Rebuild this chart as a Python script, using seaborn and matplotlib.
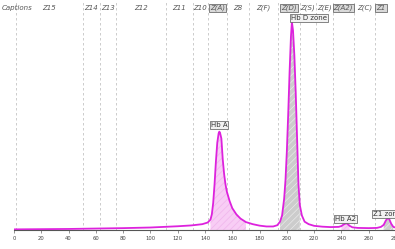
import numpy as np
import pandas as pd
import matplotlib
matplotlib.use("Agg")
import matplotlib.pyplot as plt
import matplotlib.transforms as mtransforms
import seaborn as sns

# ---- data ----
time_s = [0, 20, 40, 60, 80, 100, 120, 130, 138, 142, 144, 145, 146, 147, 148, 149,
          150, 150.5, 151, 152, 153, 154, 155, 156, 158, 160, 163, 166, 170, 175,
          180, 185, 190, 193, 195, 196.5, 198, 199, 200, 201, 202, 203, 203.7, 204.5,
          205.5, 206.5, 207.5, 208.5, 209.5, 211, 213, 216, 220, 226, 232, 238, 240,
          241.5, 243, 243.7, 244.5, 246, 248, 252, 260, 266, 269, 271, 272.5, 274,
          275, 276.5, 278, 280]
signal = [0.3, 0.4, 0.5, 0.7, 0.9, 1.2, 1.8, 2.2, 2.8, 3.6, 5.0, 7.5, 13.0, 22.0, 33.0, 42.0,
          46.5, 47.3, 46.8, 44.0, 34.0, 27.0, 22.0, 18.5, 14.0, 10.5, 7.5, 5.5, 3.8, 2.8,
          2.1, 1.7, 1.7, 2.3, 4.0, 7.0, 15.0, 24.0, 38.0, 56.0, 76.0, 93.0, 100.0, 96.0,
          84.0, 66.0, 44.0, 22.0, 12.0, 7.0, 4.0, 2.8, 2.0, 1.6, 1.4, 1.5, 1.9,
          2.6, 3.1, 3.2, 2.9, 2.0, 1.3, 1.0, 0.9, 1.0, 1.5, 2.5, 4.5, 5.8,
          5.3, 3.0, 1.5, 1.1]

zone_bounds = [1.5, 50.5, 63, 74.7, 111.4, 131.1, 142.1, 156, 172.2, 193.4, 209.5,
               221.2, 233.7, 249.1, 264.5]
zone_labels = ["Z15", "Z14", "Z13", "Z12", "Z11", "Z10", "Z(A)", "Z8", "Z(F)", "Z(D)",
               "Z(S)", "Z(E)", "Z(A2)", "Z(C)", "Z1"]
boxed_zones = ["Z(A)", "Z(D)", "Z(A2)", "Z1"]

fills = [  # (start, end, kind)
    (143.0, 172.2, "pink"),
    (194.5, 210.0, "gray"),
    (240.0, 247.0, "pink"),
    (270.0, 278.5, "gray"),
]

peak_names = ["Hb A", "Hb D zone", "Hb A2", "Z1 zone"]
peak_label_x = [150.2, 203.0, 243.2, 263.5]
peak_label_y = [50.5, 102.0, 5.5, 7.9]
peak_label_ha = ["center", "left", "center", "left"]

xticks = list(range(0, 281, 20))

# ---- drawing ----
sns.set_style("white")
plt.rcParams['font.family'] = ['DejaVu Sans']
plt.rcParams['hatch.linewidth'] = 0.5

fig = plt.figure(figsize=(3.95, 2.49), dpi=100)
ax = fig.add_axes([14 / 395, 19 / 249, 382 / 395, 230 / 249])

df = pd.DataFrame({"time": time_s, "signal": signal})
x = np.array(time_s)
y = np.array(signal)

for a, b, kind in fills:
    m = (x >= a) & (x <= b)
    if kind == "pink":
        ax.fill_between(x[m], 0, y[m], facecolor="#f8cdf5", edgecolor="#f0b4ec",
                        hatch="/////", linewidth=0, zorder=1)
    else:
        ax.fill_between(x[m], 0, y[m], facecolor="#cccccc", edgecolor="#eaeaea",
                        hatch="/////", linewidth=0, zorder=1)

for zb in zone_bounds:
    ax.axvline(zb, color="#c4c4c4", lw=0.6, ls=(0, (3, 3)), zorder=0)

sns.lineplot(data=df, x="time", y="signal", ax=ax, color="#dd22dd", lw=1.3,
             zorder=3, legend=False)

ax.set_xlim(0, 280)
ax.set_ylim(0, 110.6)

trans = mtransforms.blended_transform_factory(ax.transData, ax.transAxes)
edges = zone_bounds + [282.0]
for i, lab in enumerate(zone_labels):
    cx = (edges[i] + edges[i + 1]) / 2
    if lab == "Z1":
        cx = 269.0
    kw = dict(fontsize=5, style="italic", color="#555555", ha="center", va="center",
              transform=trans, zorder=5)
    if lab in boxed_zones:
        kw["bbox"] = dict(boxstyle="square,pad=0.15", facecolor="#d9d9d9",
                          edgecolor="#555555", lw=0.5)
    ax.text(cx, 0.965, lab, **kw)
ax.text(-9, 0.965, "Captions", fontsize=5, style="italic", color="#555555",
        ha="left", va="center", transform=trans)

for name, px, py, ha in zip(peak_names, peak_label_x, peak_label_y, peak_label_ha):
    ax.text(px, py, name, fontsize=5, color="#333333", ha=ha, va="center", zorder=6,
            bbox=dict(boxstyle="square,pad=0.15", facecolor="#f2f2f2",
                      edgecolor="#555555", lw=0.5))

ax.set_xticks(xticks)
ax.set_xticklabels([str(t) for t in xticks], fontsize=3.8, color="#444444")
ax.tick_params(axis="x", length=2.5, width=0.5, color="#666666", pad=1.5, bottom=True)
ax.set_yticks([])
ax.set_xlabel("")
ax.set_ylabel("")
for s in ["top", "right", "left"]:
    ax.spines[s].set_visible(False)
ax.spines["bottom"].set_color("#555555")
ax.spines["bottom"].set_linewidth(0.8)

fig.savefig("out.png", dpi=100)
